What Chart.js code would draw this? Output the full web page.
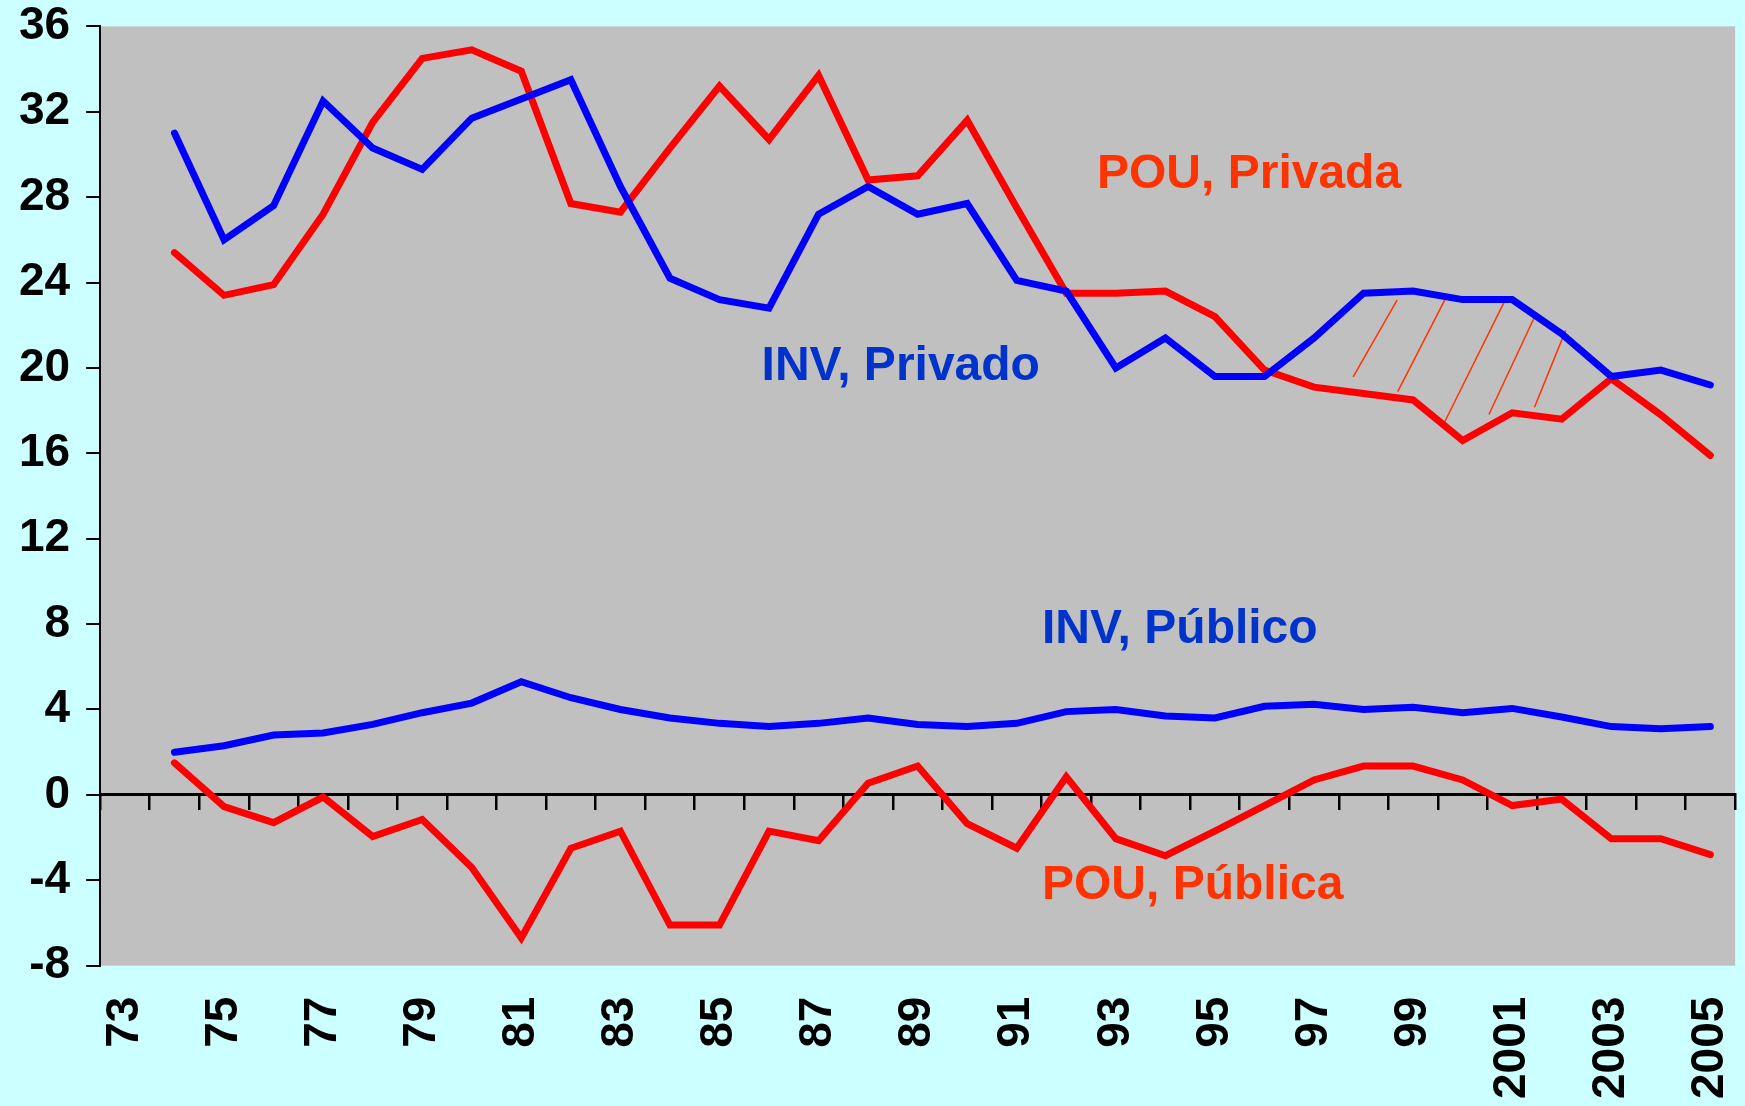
<!DOCTYPE html>
<html><head><meta charset="utf-8">
<script src="https://cdn.jsdelivr.net/npm/chart.js@4.4.1/dist/chart.umd.min.js"></script>
<style>html,body{margin:0;padding:0;background:#CCFFFF;overflow:hidden}canvas{display:block}</style>
</head><body><canvas id="c" width="1745" height="1106"></canvas>
<script>
const years = ['73','74','75','76','77','78','79','80','81','82','83','84','85','86','87','88','89','90','91','92','93','94','95','96','97','98','99','2000','2001','2002','2003','2004','2005'];
const tickLabels = ['73','75','77','79','81','83','85','87','89','91','93','95','97','99','2001','2003','2005'];
const yTicks = {min:-8, max:36, step:4};

const invPrivado = [null,31.0,26.0,27.6,32.5,30.3,29.3,31.7,32.6,33.5,28.5,24.2,23.2,22.8,27.2,28.5,27.2,27.7,24.1,23.6,20.0,21.4,19.6,19.6,21.4,23.5,23.6,23.2,23.2,21.6,19.6,19.9,19.2];
const pouPrivada = [null,25.4,23.4,23.9,27.2,31.5,34.5,34.9,33.9,27.7,27.3,30.3,33.2,30.7,33.7,28.8,29.0,31.6,27.5,23.5,23.5,23.6,22.4,19.9,19.1,18.8,18.5,16.6,17.9,17.6,19.5,17.8,15.9];
const invPublico = [null,2.0,2.3,2.8,2.9,3.3,3.85,4.3,5.3,4.55,4.0,3.6,3.35,3.2,3.35,3.6,3.3,3.2,3.35,3.9,4.0,3.7,3.6,4.15,4.25,4.0,4.1,3.85,4.05,3.65,3.2,3.1,3.2];
const pouPublica = [null,1.5,-0.55,-1.3,-0.1,-1.95,-1.15,-3.4,-6.7,-2.5,-1.7,-6.1,-6.1,-1.7,-2.15,0.55,1.35,-1.35,-2.5,0.85,-2.05,-2.85,-1.7,-0.5,0.7,1.35,1.35,0.7,-0.5,-0.2,-2.05,-2.05,-2.8];

// hatch strokes between the two private series (category index, value)
const hatchLines = [
  [24.79,19.58,25.68,23.19],
  [25.69,18.89,26.64,23.19],
  [26.64,17.48,27.86,23.19],
  [27.53,17.82,28.47,22.48],
  [28.45,18.16,29.08,21.76]
];
const annotations = [
  {text:'POU, Privada', color:'#FF3300', x:19.62, y:28.43},
  {text:'INV, Privado', color:'#0033CC', x:12.85, y:19.45},
  {text:'INV, Público', color:'#0033CC', x:18.51, y:7.1},
  {text:'POU, Pública', color:'#FF3300', x:18.51, y:-4.89}
];

const FONT = '"Liberation Sans", Arial, sans-serif';

const deco = {
  id:'deco',
  beforeDraw(chart){
    const {ctx, chartArea:a} = chart;
    ctx.save();
    ctx.fillStyle = '#CCFFFF';
    ctx.fillRect(0,0,chart.width,chart.height);
    ctx.fillStyle = '#C0C0C0';
    ctx.fillRect(a.left,a.top,a.right-a.left,a.bottom-a.top);
    ctx.restore();
  },
  beforeDatasetsDraw(chart){
    const {ctx, scales} = chart;
    ctx.save();
    ctx.strokeStyle = '#FF3300';
    ctx.lineWidth = 1.5;
    hatchLines.forEach(h=>{
      ctx.beginPath();
      ctx.moveTo(scales.x.getPixelForValue(h[0]), scales.y.getPixelForValue(h[1]));
      ctx.lineTo(scales.x.getPixelForValue(h[2]), scales.y.getPixelForValue(h[3]));
      ctx.stroke();
    });
    ctx.restore();
  },
  afterDatasetsDraw(chart){
    const {ctx, scales} = chart;
    ctx.save();
    ctx.font = 'bold 48px ' + FONT;
    ctx.textAlign = 'left';
    ctx.textBaseline = 'alphabetic';
    annotations.forEach(t=>{
      ctx.fillStyle = t.color;
      ctx.fillText(t.text, scales.x.getPixelForValue(t.x), scales.y.getPixelForValue(t.y));
    });
    ctx.restore();
  }
};

const lineDs = (label, data, color) => ({
  label, data, borderColor: color, backgroundColor: color,
  borderWidth: 7, pointRadius: 0, tension: 0, fill: false,
  borderCapStyle: 'round', borderJoinStyle: 'miter', xAxisID: 'x', yAxisID: 'y'
});

new Chart(document.getElementById('c'), {
  type: 'line',
  data: {
    labels: years,
    datasets: [
      lineDs('INV, Privado', invPrivado, '#0000FF'),
      lineDs('INV, Público', invPublico, '#0000FF'),
      lineDs('POU, Privada', pouPrivada, '#FF0000'),
      lineDs('POU, Pública', pouPublica, '#FF0000')
    ]
  },
  options: {
    responsive: false,
    animation: false,
    devicePixelRatio: 1,
    layout: {padding: {left: 3, right: 9, top: 0, bottom: 7}},
    plugins: {legend: {display: false}, tooltip: {enabled: false}},
    scales: {
      x: {
        type: 'category', position: 'bottom', offset: true,
        grid: {display: true, drawOnChartArea: false, drawTicks: true, tickLength: 31, color: 'rgba(0,0,0,0)'},
        border: {display: false},
        ticks: {
          autoSkip: false, minRotation: 90, maxRotation: 90, padding: 0, color: '#000',
          font: {family: FONT, size: 46, weight: 'bold', lineHeight: 0.75},
          callback: function(v, i){ return tickLabels.includes(years[i]) ? years[i] : ''; }
        }
      },
      x2: {
        type: 'category', axis: 'x', position: {y: 0}, offset: true,
        grid: {display: true, offset: true, drawOnChartArea: false, drawTicks: true, tickLength: 14, color: '#000', lineWidth: 2.5},
        border: {display: true, color: '#000', width: 3},
        ticks: {display: false}
      },
      y: {
        min: yTicks.min, max: yTicks.max,
        ticks: {stepSize: yTicks.step, color: '#000', padding: 16, font: {family: FONT, size: 46, weight: 'bold', lineHeight: 0.45}},
        grid: {drawOnChartArea: false, drawTicks: true, tickLength: 14, color: '#000', lineWidth: 2},
        border: {display: true, color: '#000', width: 2}
      }
    }
  },
  plugins: [deco]
});
</script>
</body></html>
